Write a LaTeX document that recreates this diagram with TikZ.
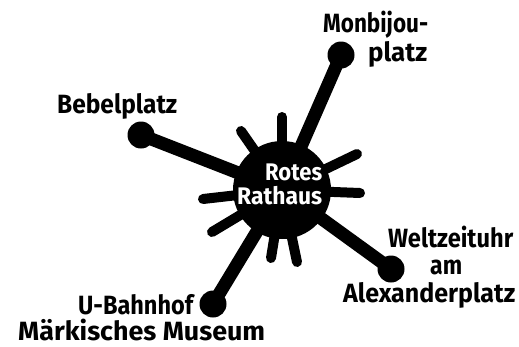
\documentclass[tikz,border=0pt]{standalone}
\usepackage{fontspec}
\setmainfont{Fira Sans}
\newcommand\fitto[2]{\resizebox{#1}{1.1\height}{#2}}
\begin{document}
\begin{tikzpicture}[x=1pt,y=-1pt,
  lbl/.style={anchor=base west, inner sep=0pt, font=\fontsize{24}{24}\selectfont\bfseries},
  ray/.style={line width=10pt, line cap=round},
  arm/.style={line width=13pt, line cap=round},
  ball/.style={circle, fill=black, inner sep=0pt, minimum size=27pt},
  hub/.style={circle, fill=black, inner sep=0pt, minimum size=98pt}]
\useasboundingbox (0,0) rectangle (519,346);
% hub
\node[hub] (hub) at (282,190) {};
% short rays
\coordinate (r1) at (241,131);
\coordinate (r2) at (282,117);
\coordinate (r3) at (357,154);
\coordinate (r4) at (360,193);
\coordinate (r5) at (297,262);
\coordinate (r6) at (271,258);
\coordinate (r7) at (212,232);
\coordinate (r8) at (203,199);
\foreach \r in {r1,r2,r3,r4,r5,r6,r7,r8}
  \draw[ray] (hub.center) -- (\r);
% end balls
\node[ball] (mon) at (341,55) {};
\node[ball] (beb) at (141,135) {};
\node[ball] (welt) at (391,269) {};
\node[ball] (ubahn) at (213,304) {};
\draw[arm] (hub.center) -- (mon.center);
\draw[arm] (hub.center) -- (beb.center);
\draw[arm] (hub.center) -- (welt.center);
\draw[arm] (hub.center) -- (ubahn.center);
% hub text
\node[lbl, text=white] (rotes) at (265,180) {\resizebox{57pt}{\height}{Rotes}};
\node[lbl, text=white] (rathaus) at (237,204) {\resizebox{85pt}{\height}{Rathaus}};
% labels
\node[lbl] (monA) at (323,32) {\fitto{105pt}{Monbijou-}};
\node[lbl] (monB) at (368,61) {\fitto{59pt}{platz}};
\node[lbl] (bebA) at (57,113) {\fitto{120pt}{Bebelplatz}};
\node[lbl] (weltA) at (388,247) {\fitto{125pt}{Weltzeituhr}};
\node[lbl] (weltB) at (430,274) {\fitto{32pt}{am}};
\node[lbl] (weltC) at (343,302) {\fitto{172pt}{Alexanderplatz}};
\node[lbl] (ubA) at (78,314) {\fitto{115pt}{U-Bahnhof}};
\node[lbl] (ubB) at (18,340) {\fitto{247pt}{Märkisches Museum}};
\end{tikzpicture}
\end{document}
